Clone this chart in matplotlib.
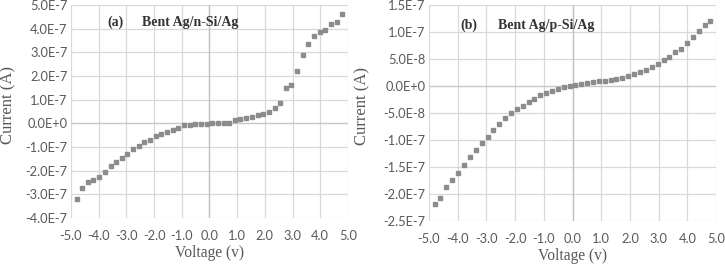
import matplotlib
matplotlib.use("Agg")
import matplotlib.pyplot as plt
from matplotlib.ticker import FuncFormatter

# voltage steps (V), same for both samples
voltage = [-4.80, -4.60, -4.39, -4.19, -3.98, -3.78, -3.57, -3.37, -3.17, -2.96,
           -2.76, -2.55, -2.35, -2.14, -1.94, -1.74, -1.53, -1.33, -1.12, -0.92,
           -0.71, -0.51, -0.31, -0.10, 0.10, 0.31, 0.51, 0.71, 0.92, 1.12,
           1.33, 1.53, 1.74, 1.94, 2.14, 2.35, 2.55, 2.76, 2.96, 3.17,
           3.37, 3.57, 3.78, 3.98, 4.19, 4.39, 4.60, 4.80]

# (a) Bent Ag/n-Si/Ag, current in units of 1E-7 A
current_a = [-3.20, -2.73, -2.48, -2.38, -2.27, -2.06, -1.80, -1.65, -1.45, -1.31,
             -1.08, -0.97, -0.80, -0.69, -0.54, -0.45, -0.37, -0.30, -0.18, -0.08,
             -0.08, -0.01, -0.01, -0.01, 0.00, 0.005, 0.01, 0.01, 0.14, 0.18,
             0.23, 0.28, 0.34, 0.41, 0.49, 0.63, 0.87, 1.48, 1.62, 2.21,
             2.89, 3.37, 3.69, 3.87, 3.93, 4.21, 4.27, 4.61]

# (b) Bent Ag/p-Si/Ag, current in units of 1E-8 A
current_b = [-21.85, -20.74, -18.77, -17.35, -16.11, -14.69, -13.09, -11.85, -10.56, -9.44,
             -8.21, -6.98, -5.86, -5.06, -4.32, -3.64, -2.90, -2.47, -1.79, -1.36,
             -0.93, -0.56, -0.25, -0.05, 0.10, 0.31, 0.49, 0.62, 0.80, 0.93,
             1.05, 1.25, 1.50, 1.80, 2.10, 2.50, 3.00, 3.50, 4.10, 4.70,
             5.40, 6.20, 6.90, 8.00, 9.00, 10.10, 11.20, 12.00]

x_ticks = [-5.0, -4.0, -3.0, -2.0, -1.0, 0.0, 1.0, 2.0, 3.0, 4.0, 5.0]
y_ticks_a = [-4e-7, -3e-7, -2e-7, -1e-7, 0.0, 1e-7, 2e-7, 3e-7, 4e-7, 5e-7]
y_ticks_b = [-2.5e-7, -2e-7, -1.5e-7, -1e-7, -5e-8, 0.0, 5e-8, 1e-7, 1.5e-7]

panel_tags = ["(a)", "(b)"]
panel_names = ["Bent Ag/n-Si/Ag", "Bent Ag/p-Si/Ag"]


def excel_sci(v, pos):
    # Excel style: 5.0E-7, 0.0E+0
    m, e = f"{v:.1E}".split("E")
    return f"{m}E{int(e):+d}"


def style_axes(ax, y_ticks, ylabel_x):
    ax.set_xlim(-5, 5)
    ax.set_ylim(y_ticks[0], y_ticks[-1])
    ax.set_xticks(x_ticks)
    ax.set_yticks(y_ticks)
    ax.xaxis.set_major_formatter(FuncFormatter(lambda v, p: f"{v:.1f}"))
    ax.yaxis.set_major_formatter(FuncFormatter(excel_sci))
    ax.grid(True, color="#d9d9d9", linewidth=0.9)
    ax.set_axisbelow(True)
    for s in ax.spines.values():
        s.set_visible(False)
    ax.tick_params(length=0, labelsize=9.3, labelcolor="#595959")
    ax.tick_params(axis="x", pad=9)
    ax.tick_params(axis="y", pad=2.5)
    for lbl in ax.get_xticklabels() + ax.get_yticklabels():
        lbl.set_family("Lato")
    ax.axvline(0, color="#bfbfbf", linewidth=0.9, zorder=1)
    ax.axhline(0, color="#c8c8c8", linewidth=0.9, zorder=1)
    ax.set_xlabel("Voltage (v)", family="Liberation Serif", fontsize=11.2,
                  color="#595959", labelpad=2)
    ax.set_ylabel("Current (A)", family="Liberation Serif", fontsize=12,
                  color="#595959")
    ax.yaxis.set_label_coords(ylabel_x, 0.53)


def main():
    fig = plt.figure(figsize=(7.25, 2.68), dpi=100)

    ax_a = fig.add_axes([0.0979, 0.1866, 0.382, 0.795])
    ax_b = fig.add_axes([0.5917, 0.1754, 0.396, 0.807])

    ya = [c * 1e-7 for c in current_a]
    yb = [c * 1e-8 for c in current_b]

    ax_a.plot(voltage, ya, "s", color="#8c8c8c", markersize=3.0, zorder=3)
    ax_b.plot(voltage, yb, "s", color="#8c8c8c", markersize=3.0, zorder=3)

    style_axes(ax_a, y_ticks_a, -0.197)
    style_axes(ax_b, y_ticks_b, -0.205)

    # panel captions
    cap = dict(family="Liberation Serif", fontweight="bold", color="#333333", va="center")
    ax_a.text(0.13, 0.917, panel_tags[0], transform=ax_a.transAxes, fontsize=10, **cap)
    ax_a.text(0.255, 0.917, panel_names[0], transform=ax_a.transAxes, fontsize=10, **cap)
    ax_b.text(0.111, 0.906, panel_tags[1], transform=ax_b.transAxes, fontsize=10, **cap)
    ax_b.text(0.24, 0.906, panel_names[1], transform=ax_b.transAxes, fontsize=10, **cap)

    fig.savefig("out.png", dpi=100)


if __name__ == "__main__":
    main()
